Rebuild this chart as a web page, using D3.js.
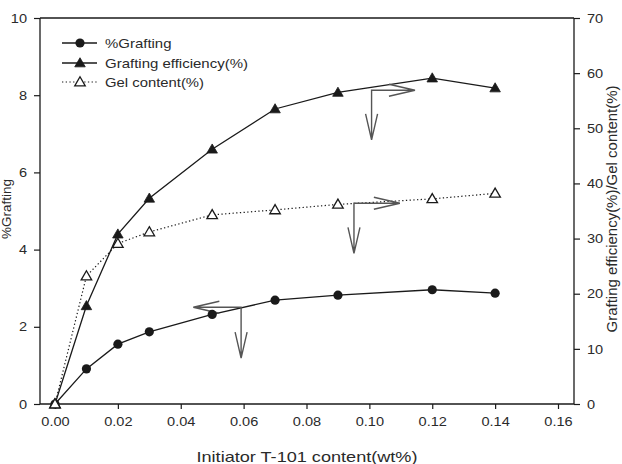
<!DOCTYPE html>
<html><head><meta charset="utf-8">
<script src="https://cdn.jsdelivr.net/npm/d3@7"></script>
<style>
html,body{margin:0;padding:0;background:#fff;}
svg text{font-family:"Liberation Sans",Arial,sans-serif;fill:#2a2a2a;}
</style></head>
<body><svg id="c" width="622" height="464"></svg>
<script>
const initiator = [0, 0.01, 0.02, 0.03, 0.05, 0.07, 0.09, 0.12, 0.14];
const grafting = [0, 0.91, 1.55, 1.87, 2.32, 2.69, 2.82, 2.96, 2.87];
const graftEff = [0, 17.8, 30.8, 37.3, 46.2, 53.5, 56.5, 59.1, 57.3];
const gelContent = [0, 23.2, 29.1, 31.2, 34.3, 35.2, 36.2, 37.2, 38.2];
const xTicks = [0, 0.02, 0.04, 0.06, 0.08, 0.10, 0.12, 0.14, 0.16];
const yLeftTicks = [0, 2, 4, 6, 8, 10];
const yRightTicks = [0, 10, 20, 30, 40, 50, 60, 70];
const legendLabels = ["%Grafting", "Grafting efficiency(%)", "Gel content(%)"];
// annotation arrows: corner, horizontal tip x, vertical tip y (data units, axis)
const arrows = [
  {axis: "right", x: 0.1007, y: 56.9, hx: 0.1145, vy: 47.9},
  {axis: "right", x: 0.0951, y: 36.4, hx: 0.1097, vy: 27.3},
  {axis: "left", x: 0.0592, y: 2.505, hx: 0.044, vy: 1.19}
];

const svg = d3.select("#c");
const L = 40, R = 574, T = 18, B = 404;
const x = d3.scaleLinear().domain([-0.00477, 0.16509]).range([L, R]);
const yL = d3.scaleLinear().domain([0, 10]).range([B, T]);
const yR = d3.scaleLinear().domain([0, 70]).range([B, T]);
const ink = "#1a1a1a";

// frame top
svg.append("line").attr("x1", L).attr("x2", R).attr("y1", T).attr("y2", T)
  .attr("stroke", ink).attr("stroke-width", 1.3);

const fmtX = d3.format(".2f");
const gx = svg.append("g").attr("transform", `translate(0,${B})`)
  .call(d3.axisBottom(x).tickValues(xTicks).tickFormat(fmtX).tickSize(5).tickPadding(8).tickSizeOuter(0));
const gyl = svg.append("g").attr("transform", `translate(${L},0)`)
  .call(d3.axisLeft(yL).tickValues(yLeftTicks).tickSize(6).tickPadding(7).tickSizeOuter(0));
const gyr = svg.append("g").attr("transform", `translate(${R},0)`)
  .call(d3.axisRight(yR).tickValues(yRightTicks).tickSize(6).tickPadding(7).tickSizeOuter(0));
[gx, gyl, gyr].forEach(g => {
  g.select(".domain").attr("stroke", ink).attr("stroke-width", 1.3);
  g.selectAll(".tick line").attr("stroke", ink).attr("stroke-width", 1.2);
  g.selectAll(".tick text").attr("font-size", 13).attr("font-family", "Liberation Sans, Arial, sans-serif").attr("fill", "#2a2a2a")
    .each(function() {
      const w = this.getComputedTextLength();
      d3.select(this).attr("textLength", w * 1.12).attr("lengthAdjust", "spacingAndGlyphs");
    });
});
// extend axis domains to full frame
gx.select(".domain").attr("d", `M${L},0H${R}`);
gyl.select(".domain").attr("d", `M0,${B}V${T}`);
gyr.select(".domain").attr("d", `M0,${B}V${T}`);

// axis titles
svg.append("text").attr("x", 307).attr("y", 462).attr("text-anchor", "middle")
  .attr("font-size", 15).attr("textLength", 221).attr("lengthAdjust", "spacingAndGlyphs")
  .text("Initiator T-101 content(wt%)");
svg.append("text").attr("transform", `translate(11,${209}) rotate(-90)`).attr("text-anchor", "middle")
  .attr("font-size", 13.5).text("%Grafting");
svg.append("text").attr("transform", `translate(617,${209}) rotate(-90)`).attr("text-anchor", "middle")
  .attr("font-size", 14).attr("textLength", 247).attr("lengthAdjust", "spacingAndGlyphs")
  .text("Grafting efficiency(%)/Gel content(%)");

const pts = (vals) => initiator.map((d, i) => [d, vals[i]]);
const lineL = d3.line().x(d => x(d[0])).y(d => yL(d[1]));
const lineR = d3.line().x(d => x(d[0])).y(d => yR(d[1]));

// gel content dotted
svg.append("path").datum(pts(gelContent)).attr("d", lineR).attr("fill", "none")
  .attr("stroke", ink).attr("stroke-width", 1.2).attr("stroke-dasharray", "1.3,2.4");
// grafting efficiency
svg.append("path").datum(pts(graftEff)).attr("d", lineR).attr("fill", "none")
  .attr("stroke", ink).attr("stroke-width", 1.3);
// grafting
svg.append("path").datum(pts(grafting)).attr("d", lineL).attr("fill", "none")
  .attr("stroke", ink).attr("stroke-width", 1.3);

// arrows
const arrowCol = "#555";
function head(tx, ty, dx, dy) {
  const len = 26, w = 6;
  const bx = tx - dx * len, by = ty - dy * len;
  const px = -dy, py = dx;
  return `M${bx + px * w},${by + py * w}L${tx},${ty}L${bx - px * w},${by - py * w}`;
}
arrows.forEach(a => {
  const ys = a.axis === "right" ? yR : yL;
  const cx = x(a.x), cy = ys(a.y), hx = x(a.hx), vy = ys(a.vy);
  const dir = hx > cx ? 1 : -1;
  const p = `M${hx},${cy}L${cx},${cy}L${cx},${vy}` + head(hx, cy, dir, 0) + head(cx, vy, 0, 1);
  svg.append("path").attr("d", p).attr("fill", "none").attr("stroke", arrowCol)
    .attr("stroke-width", 1.4).attr("stroke-linejoin", "miter");
});

const tri = d3.symbol().type(d3.symbolTriangle).size(48);
function drawTri(g, cx, cy, filled) {
  g.append("path").attr("d", tri()).attr("transform", `translate(${cx},${cy + 0.8})`)
    .attr("fill", filled ? ink : "#fff").attr("stroke", ink).attr("stroke-width", filled ? 0.8 : 1.3);
}
// markers
const gm = svg.append("g");
pts(gelContent).forEach(d => drawTri(gm, x(d[0]), yR(d[1]), false));
pts(graftEff).forEach(d => drawTri(gm, x(d[0]), yR(d[1]), true));
gm.selectAll("circle.g").data(pts(grafting)).join("circle").attr("class", "g")
  .attr("cx", d => x(d[0])).attr("cy", d => yL(d[1])).attr("r", 4.6).attr("fill", ink);
drawTri(gm, x(0), yR(0), false);

// legend
const lg = svg.append("g");
const rows = [43, 63, 82];
const legendWidths = [66.5, 143, 99];
legendLabels.forEach((lab, i) => {
  const y0 = rows[i];
  const ln = lg.append("line").attr("x1", 62).attr("x2", 97).attr("y1", y0).attr("y2", y0)
    .attr("stroke", ink).attr("stroke-width", 1.3);
  if (i === 2) ln.attr("stroke-dasharray", "1.3,2.4").attr("stroke-width", 1.2);
  if (i === 0) lg.append("circle").attr("cx", 80).attr("cy", y0).attr("r", 4.6).attr("fill", ink);
  else drawTri(lg, 80, y0, i === 1);
  lg.append("text").attr("x", 105).attr("y", y0 + 5).attr("font-size", 13.5)
    .attr("textLength", legendWidths[i]).attr("lengthAdjust", "spacingAndGlyphs").text(lab);
});
</script></body></html>
